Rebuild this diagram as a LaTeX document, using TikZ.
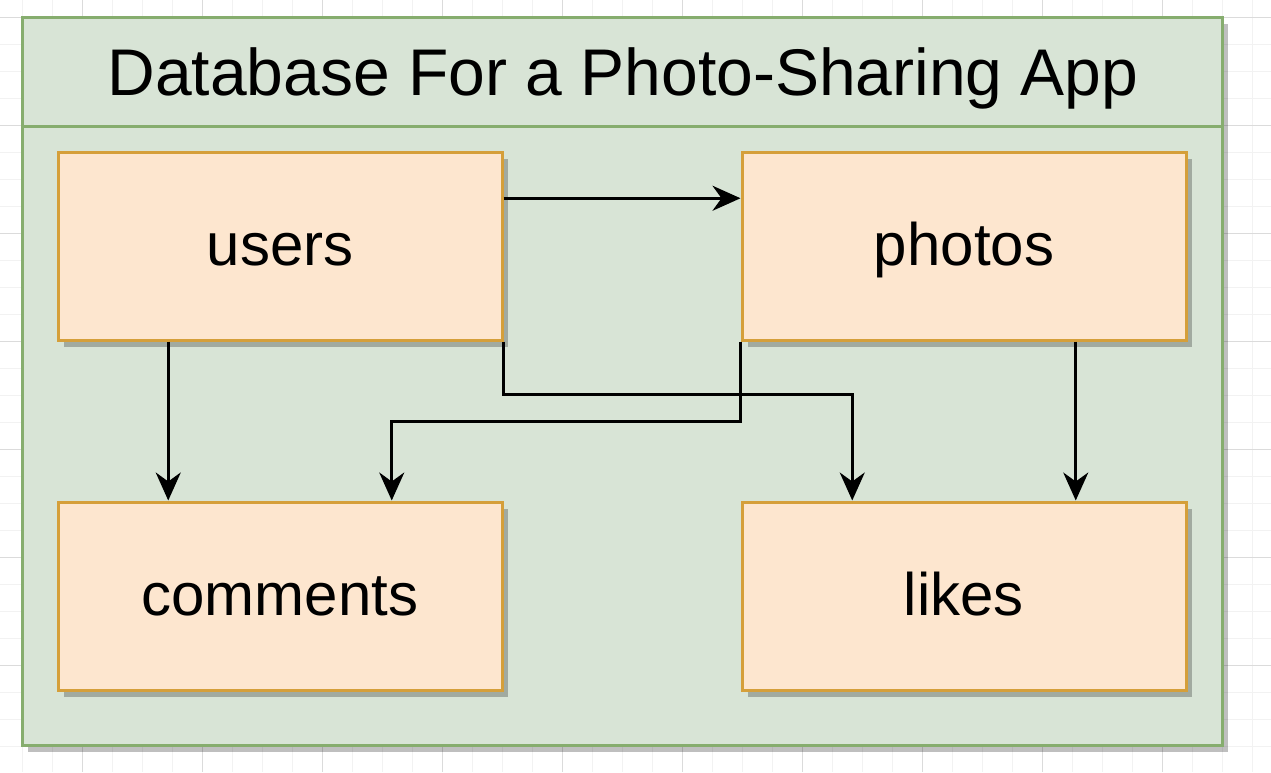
\documentclass[tikz,border=0pt]{standalone}
\usepackage{fontspec}
\setmainfont{Liberation Sans}
\usetikzlibrary{calc,arrows.meta,shadows}
\definecolor{frameFill}{HTML}{D8E4D6}
\definecolor{frameLine}{HTML}{86AD6E}
\definecolor{boxFill}{HTML}{FDE6CF}
\definecolor{boxLine}{HTML}{D59F3A}

\begin{document}
\begin{tikzpicture}[x=1pt,y=-1pt,
  gridMinor/.style={draw=black!5, line width=1pt},
  gridMajor/.style={draw=black!14, line width=1pt},
  shade/.style={drop shadow={shadow xshift=6pt, shadow yshift=-7pt, opacity=0.25, fill=black}},
  frame/.style={draw=frameLine, fill=frameFill, line width=3pt, shade},
  table/.style={draw=boxLine, fill=boxFill, line width=3pt, minimum width=444pt, minimum height=188pt,
    inner sep=0pt, text height=44pt, text depth=6pt, font=\fontsize{60}{72}\selectfont, shade},
  link/.style={line width=2.8pt, -{Stealth[length=28pt,width=25pt,inset=9pt]}}]
\useasboundingbox (0,0) rectangle (1271,772);
\fill[white] (0,0) rectangle (1271,772);
\foreach \x in {22,52,...,1271} \draw[gridMinor] (\x,0) -- (\x,772);
\foreach \y in {17,44,...,772} \draw[gridMinor] (0,\y) -- (1271,\y);
\foreach \x in {82,202,...,1271} \draw[gridMajor] (\x,0) -- (\x,772);
\foreach \y in {17,125,...,772} \draw[gridMajor] (0,\y) -- (1271,\y);

\draw[frame] (22,17) rectangle (1222,745);
\draw[frameLine, line width=3pt] (22,126) -- (1222,126);
\node[font=\fontsize{66}{78}\selectfont, text height=50pt, text depth=4pt, inner sep=0pt] (title) at (623,72) {Database For a Photo-Sharing App};

\node[table] (users) at (280,246) {users};
\node[table] (photos) at (964,246) {photos};
\node[table] (comments) at (280,596) {comments};
\node[table] (likes) at (964,596) {likes};

\draw[link] ($(users.north east)!0.25!(users.south east)$) -- ($(photos.north west)!0.25!(photos.south west)$);
\draw[link] ($(users.south west)!0.25!(users.south east)$) -- ($(comments.north west)!0.25!(comments.north east)$);
\draw[link] (users.south east) -- ++(0,53) -| ($(likes.north west)!0.25!(likes.north east)$);
\draw[link] (photos.south west) -- ++(0,80) -| ($(comments.north west)!0.75!(comments.north east)$);
\draw[link] ($(photos.south west)!0.75!(photos.south east)$) -- ($(likes.north west)!0.75!(likes.north east)$);
\end{tikzpicture}
\end{document}
